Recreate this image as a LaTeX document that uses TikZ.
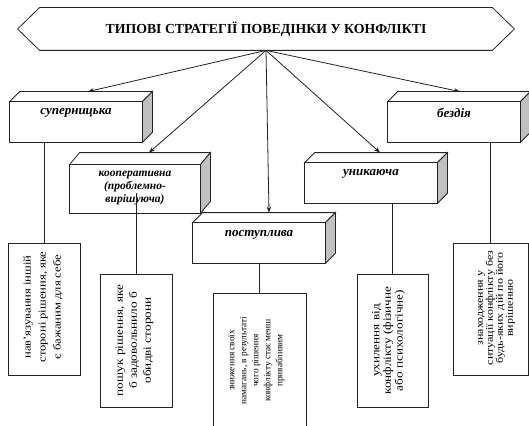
\documentclass[tikz,border=0pt]{standalone}
\usepackage{fontspec}
\setmainfont{Liberation Serif}
\newfontfamily\wideserif{Liberation Serif}[FakeStretch=1.2]
\usetikzlibrary{arrows.meta,calc}
\definecolor{sidegray}{RGB}{192,192,192}
\definecolor{linecol}{RGB}{35,35,35}
\newcommand{\mycuboid}[3]{%
  \draw[fill=white] (#1.north west) -- ($(#1.north west)+(#2,#3)$) -- ($(#1.north east)+(#2,#3)$) -- (#1.north east) -- cycle;
  \draw[fill=sidegray] (#1.north east) -- ($(#1.north east)+(#2,#3)$) -- ($(#1.south east)+(#2,#3)$) -- (#1.south east) -- cycle;
  \draw[fill=white] (#1.south west) rectangle (#1.north east);
}
\begin{document}
\begin{tikzpicture}[x=1pt,y=1pt,line width=0.8pt,draw=linecol,
  front/.style={rectangle,draw=none,inner sep=0pt},
  boxlabel/.style={font=\fontsize{13}{13}\selectfont\bfseries\itshape,align=center,inner sep=0pt},
  desc/.style={rectangle,draw,fill=white,inner sep=0pt},
  desctext/.style={rotate=90,align=center,inner sep=0pt},
  arr/.style={-{Stealth[length=6pt,width=4.5pt]}}]
\path[use as bounding box,fill=white] (0,0) rectangle (529,-425);

% title banner
\node[rectangle,minimum width=452,minimum height=42,inner sep=0pt,
  font=\fontsize{13.8}{15}\selectfont\bfseries] (title) at (266,-29) {ТИПОВІ СТРАТЕГІЇ ПОВЕДІНКИ У КОНФЛІКТІ};
\draw (title.north west) -- (title.north east) -- ($(title.east)+(22,0)$) -- (title.south east)
  -- (title.south west) -- ($(title.west)+(-22,0)$) -- cycle;

% strategy boxes (front faces)
\node[front,minimum width=132,minimum height=40] (s) at (76,-122) {};
\node[front,minimum width=130,minimum height=48] (k) at (135,-189) {};
\node[front,minimum width=132,minimum height=40] (p) at (259,-243) {};
\node[front,minimum width=132,minimum height=40] (u) at (371,-183) {};
\node[front,minimum width=132,minimum height=40] (b) at (454,-122) {};

\coordinate (st) at ($(s.north)+(12,10)$);
\coordinate (kt) at ($(k.north)+(14,12)$);
\coordinate (pt) at ($(p.north)+(10,10)$);
\coordinate (ut) at ($(u.north)+(9,10)$);
\coordinate (bt) at ($(b.north)+(6,10)$);

% arrows from the title
\draw[arr] (title.south) -- (st);
\draw[arr] (title.south) -- (kt);
\draw[arr] (title.south) -- (pt);
\draw[arr] (title.south) -- (ut);
\draw[arr] (title.south) -- (bt);

\mycuboid{s}{10}{10}
\mycuboid{k}{10}{12}
\mycuboid{p}{10}{10}
\mycuboid{u}{10}{10}
\mycuboid{b}{10}{10}

\node[boxlabel] (sl) at ($(s.north)+(0,-11)$) {суперницька};
\node[boxlabel,font=\fontsize{11.5}{13}\selectfont\bfseries\itshape] (kl) at ($(k.north)+(0,-23)$) {кооперативна\\(проблемно-\\вирішуюча)};
\node[boxlabel] (pl) at ($(p.north)+(0,-12)$) {поступлива};
\node[boxlabel] (ul) at ($(u.north)+(0,-11)$) {уникаюча};
\node[boxlabel] (bl) at ($(b.north)+(0,-11)$) {бездія};

% description boxes
\node[desc,minimum width=72,minimum height=132] (d1) at (44,-309) {};
\node[desc,minimum width=72,minimum height=133] (d2) at (136,-340.5) {};
\node[desc,minimum width=93,minimum height=137] (d3) at (259.5,-361.5) {};
\node[desc,minimum width=71,minimum height=133] (d4) at (392.5,-340.5) {};
\node[desc,minimum width=75,minimum height=132] (d5) at (490.5,-309) {};

% links
\draw (s.south -| d1.north) -- (d1.north);
\draw ($(k.south -| d2.north)+(0,20)$) -- (d2.north);
\draw (p.south -| d3.north) -- (d3.north);
\draw (u.south -| d4.north) -- (d4.north);
\draw (b.south -| d5.north) -- (d5.north);

% rotated texts
\node[desctext,font=\wideserif\fontsize{10.5}{15}\selectfont] (t1) at ($(d1)+(-1,2)$) {нав’язування іншій\\стороні рішення, яке\\є бажаним для себе};
\node[desctext,font=\wideserif\fontsize{11}{14}\selectfont] (t2) at ($(d2)+(-1.5,0)$) {пошук рішення, яке\\б задовольнило б\\обидві сторони};
\node[desctext,font=\fontsize{9.3}{12}\selectfont] (t3) at ($(d3)+(-3,1)$) {зниження своїх\\намагань, в результаті\\чого рішення\\конфлікту стає менш\\привабливим};
\node[desctext,font=\wideserif\fontsize{11}{11.7}\selectfont] (t4) at ($(d4)+(-4,0)$) {ухилення від\\конфлікту (фізичне\\або психологічне)};
\node[desctext,font=\wideserif\fontsize{10}{10}\selectfont] (t5) at ($(d5)+(6,1)$) {знаходження у\\ситуації конфлікту без\\будь-яких дій по його\\вирішенню};
\end{tikzpicture}
\end{document}
